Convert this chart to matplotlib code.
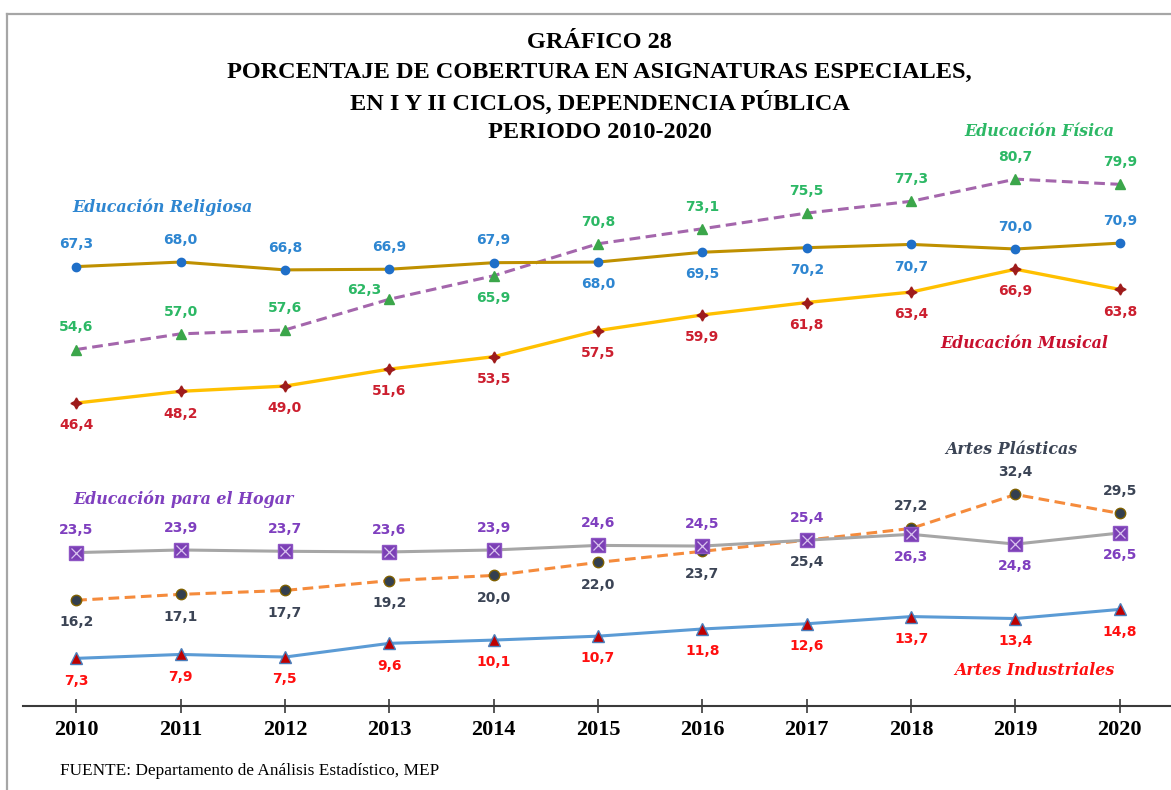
import matplotlib
matplotlib.use("Agg")
import matplotlib.pyplot as plt
from matplotlib.lines import Line2D

years = [2010, 2011, 2012, 2013, 2014, 2015, 2016, 2017, 2018, 2019, 2020]

religiosa = [67.3, 68.0, 66.8, 66.9, 67.9, 68.0, 69.5, 70.2, 70.7, 70.0, 70.9]
fisica = [54.6, 57.0, 57.6, 62.3, 65.9, 70.8, 73.1, 75.5, 77.3, 80.7, 79.9]
musical = [46.4, 48.2, 49.0, 51.6, 53.5, 57.5, 59.9, 61.8, 63.4, 66.9, 63.8]
hogar = [23.5, 23.9, 23.7, 23.6, 23.9, 24.6, 24.5, 25.4, 26.3, 24.8, 26.5]
plasticas = [16.2, 17.1, 17.7, 19.2, 20.0, 22.0, 23.7, 25.4, 27.2, 32.4, 29.5]
industriales = [7.3, 7.9, 7.5, 9.6, 10.1, 10.7, 11.8, 12.6, 13.7, 13.4, 14.8]

# label side for each point: +1 above, -1 below
pos_religiosa = [1, 1, 1, 1, 1, -1, -1, -1, -1, 1, 1]
pos_fisica = [1, 1, 1, 1, -1, 1, 1, 1, 1, 1, 1]
pos_musical = [-1] * 11
pos_hogar = [1, 1, 1, 1, 1, 1, 1, 1, -1, -1, -1]
pos_plasticas = [-1, -1, -1, -1, -1, -1, -1, -1, 1, 1, 1]
pos_industriales = [-1] * 11

title_lines = ["GRÁFICO 28",
               "PORCENTAJE DE COBERTURA EN ASIGNATURAS ESPECIALES,",
               "EN I Y II CICLOS, DEPENDENCIA PÚBLICA",
               "PERIODO 2010-2020"]
source = "FUENTE: Departamento de Análisis Estadístico, MEP"

fig = plt.figure(figsize=(11.71, 7.90), dpi=100)
ax = fig.add_axes([0.0196, 0.1063, 0.9804, 0.7025])

def fmt(v):
    return ("%.1f" % v).replace(".", ",")

def labels(vals, sides, color, offs=None):
    for i, (x, v, s) in enumerate(zip(years, vals, sides)):
        dx, dy = (0, 16 * s)
        if offs and i in offs:
            dx, dy = offs[i]
        ax.annotate(fmt(v), (x, v), xytext=(dx, dy), textcoords="offset points",
                    ha="center", va="center", fontsize=10, fontweight="bold",
                    color=color, family="DejaVu Sans")

# Educación Física
ax.plot(years, fisica, color="#A466AC", lw=2.2, ls=(0, (3.5, 1.8)), marker="^",
        ms=7, mfc="#3BA64A", mec="#3BA64A", zorder=3)
# Educación Religiosa
ax.plot(years, religiosa, color="#BF9000", lw=2.2, marker="o", ms=6,
        mfc="#1F6FC8", mec="#1F6FC8", zorder=4)
# Educación Musical
ax.plot(years, musical, color="#FFC000", lw=2.4, marker=(4, 1, 0), ms=8,
        mfc="#9E1B1B", mec="#9E1B1B", zorder=3)
# Artes Plásticas
ax.plot(years, plasticas, color="#F58B3C", lw=2.2, ls=(0, (3.5, 1.8)), marker="o",
        ms=7.5, mfc="#333F4F", mec="#7F6000", mew=1, zorder=3)
# Educación para el Hogar
ax.plot(years, hogar, color="#A6A6A6", lw=2.2, marker="s", ms=10,
        mfc="#7B3FB5", mec="#8E55C4", zorder=4)
ax.plot(years, hogar, ls="none", marker="x", ms=7, mec="#D9C3EE", mew=0.9, zorder=5)
# Artes Industriales
ax.plot(years, industriales, color="#5B9BD5", lw=2.2, marker="^", ms=9,
        mfc="#C00000", mec="#4A7EBB", mew=1, zorder=3)

labels(religiosa, pos_religiosa, "#2E86D1")
labels(fisica, pos_fisica, "#2CB865", offs={3: (-18, 7)})
labels(musical, pos_musical, "#CC1F2F")
labels(hogar, pos_hogar, "#7F3FBF")
labels(plasticas, pos_plasticas, "#3B4455")
labels(industriales, pos_industriales, "#FF1010")

name_kw = dict(fontsize=11.4, fontweight="bold", style="italic",
               family="DejaVu Serif", va="center")
ax.text(2009.96, 76.4, "Educación Religiosa", color="#2E86D1", ha="left", **name_kw)
ax.text(2019.23, 88.0, "Educación Física", color="#2CB865", ha="center", **name_kw)
ax.text(2019.08, 55.5, "Educación Musical", color="#C8102E", ha="center", **name_kw)
ax.text(2018.96, 39.3, "Artes Plásticas", color="#3B4455", ha="center", **name_kw)
ax.text(2009.97, 31.6, "Educación para el Hogar", color="#7F3FBF", ha="left", **name_kw)
ax.text(2019.18, 5.4, "Artes Industriales", color="#FF1010", ha="center", **name_kw)

ax.set_xlim(2009.49, 2020.49)
ax.set_ylim(0, 85)
ax.set_xticks(years)
ax.set_xticklabels([str(y) for y in years], fontsize=16, fontweight="bold",
                   family="Liberation Serif")
ax.set_yticks([])
for s in ["top", "right", "left"]:
    ax.spines[s].set_visible(False)
ax.spines["bottom"].set_color("#3A3A3A")
ax.spines["bottom"].set_linewidth(1.5)
ax.tick_params(axis="x", direction="inout", length=10, width=1.2, color="#3A3A3A", pad=5)

for i, line in enumerate(title_lines):
    fig.text(0.512, 1 - (42 + 30.3 * i) / 790, line, ha="center", va="center",
             fontsize=17.5, fontweight="bold", family="Liberation Serif")
fig.text(0.051, 1 - 771 / 790, source, ha="left", va="center", fontsize=12.4,
         family="Liberation Serif")

# grey frame (top and left edges visible)
fig.add_artist(Line2D([0.006, 1.0], [1 - 14 / 790, 1 - 14 / 790], color="#A6A6A6", lw=1.6))
fig.add_artist(Line2D([0.006, 0.006], [0.0, 1 - 14 / 790], color="#A6A6A6", lw=1.6))

fig.savefig("out.png", dpi=100)
